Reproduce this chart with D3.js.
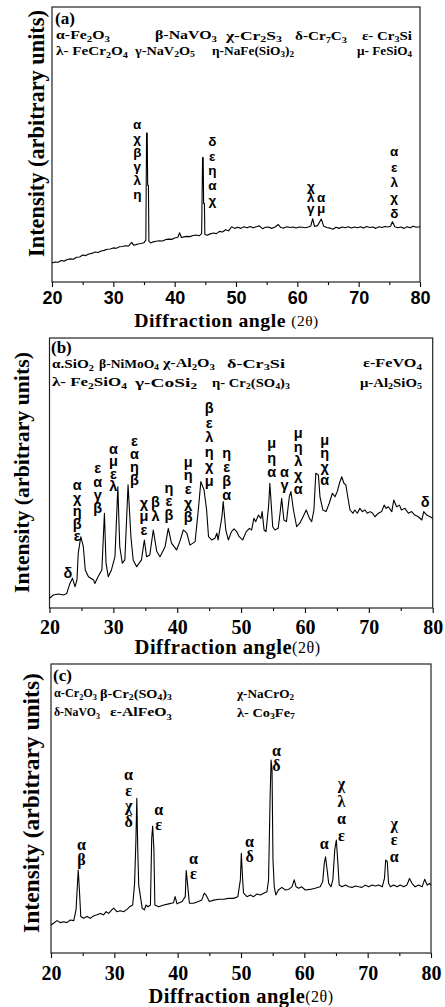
<!DOCTYPE html>
<html><head><meta charset="utf-8">
<script src="https://cdn.jsdelivr.net/npm/d3@7"></script>
<style>body{margin:0;background:#fff}svg{display:block}</style>
</head><body>
<svg id="chart" width="445" height="1007"></svg>
<script>
// ---------- data ----------
const angleTicks = [20,30,40,50,60,70,80];
const minorTicks = [25,35,45,55,65,75];
const xTitleMain = "Diffraction angle";
const xTitleUnit = "(2θ)";
const yTitle = "Intensity (arbitrary units)";

const scanA = [[20,6.9],[20.5,7.3],[21,7.2],[21.5,7.8],[22,7.6],[22.5,8.2],[23,8.4],[23.5,8.3],[24,9.0],[24.5,9.1],[25,9.8],[25.5,9.6],[26,10.2],[26.5,10.4],[27,10.9],[27.5,10.7],[28,11.3],[28.5,11.5],[29,11.9],[29.5,12.0],[30,12.4],[30.5,12.3],[31,12.8],[31.5,12.9],[32,13.2],[32.5,13.1],[33,14.4],[33.3,13.4],[33.7,13.6],[34,13.8],[34.5,14.0],[35,14.3],[35.3,15.2],[35.42,54.2],[35.52,54.2],[35.6,35.2],[35.72,35.2],[35.8,14.8],[36.1,14.2],[36.5,14.6],[37,14.8],[37.5,15.0],[38,14.9],[38.5,15.4],[39,15.6],[39.5,15.5],[40,16.0],[40.5,16.2],[40.8,17.9],[41.1,16.2],[41.5,16.4],[42,16.6],[42.5,16.5],[43,16.9],[43.5,17.1],[44,16.8],[44.4,17.6],[44.55,45.3],[44.65,45.3],[44.72,28.6],[44.85,28.6],[44.92,17.3],[45.3,17.0],[45.8,17.5],[46.3,17.8],[46.8,17.6],[47.3,18.4],[47.8,18.2],[48.3,19.0],[48.8,18.6],[49.3,20.1],[49.8,19.5],[50.3,19.9],[50.8,19.5],[51.3,20.1],[51.8,19.7],[52.3,20.2],[52.8,19.7],[53.3,20.1],[53.8,20.4],[54.3,19.4],[54.8,19.9],[55.3,20.0],[55.8,19.5],[56.3,19.9],[56.9,20.9],[57.3,19.8],[57.8,19.6],[58.3,20.1],[58.8,19.8],[59.3,20.0],[59.8,19.6],[60.3,20.0],[60.8,19.9],[61.3,19.7],[61.8,20.0],[62.2,20.4],[62.5,23.0],[62.8,20.2],[63.3,20.5],[63.9,22.9],[64.3,20.3],[64.8,19.8],[65.3,19.6],[65.8,19.2],[66.3,19.9],[66.8,19.5],[67.3,20.0],[67.8,19.7],[68.3,20.1],[68.8,19.6],[69.3,20.0],[69.8,19.7],[70.3,20.1],[70.8,19.6],[71.3,20.2],[71.8,19.8],[72.3,20.0],[72.8,19.5],[73.3,20.1],[73.8,19.8],[74.3,20.2],[74.8,20.0],[75.2,20.3],[75.5,21.9],[75.9,20.1],[76.4,19.7],[76.9,20.0],[77.4,19.5],[77.9,20.1],[78.4,19.7],[78.9,20.3],[79.4,19.9],[80,20.1]];

const scanB = [[20,3.6],[20.6,4.8],[21.4,5.2],[22.2,4.8],[22.7,5.4],[23.2,9.1],[23.6,11.0],[24.0,7.9],[24.3,10.4],[24.5,20.3],[24.9,26.4],[25.3,22.7],[25.6,14.1],[26.1,11.6],[26.9,10.4],[27.1,9.1],[27.6,11.6],[28.2,14.1],[28.6,35.1],[28.85,16.6],[29.2,11.6],[29.7,14.1],[30.25,19.0],[30.7,44.9],[31.0,22.7],[31.4,16.6],[31.8,17.8],[32.3,45.6],[32.75,26.4],[33.1,17.8],[33.65,15.3],[34.4,17.8],[34.85,25.2],[35.2,19.0],[35.7,19.6],[36.25,28.9],[36.8,20.9],[37.3,19.0],[38.1,22.7],[38.6,29.5],[39.1,24.0],[39.9,21.5],[40.4,24.6],[40.95,28.9],[41.5,27.7],[42.0,23.3],[42.8,24.6],[43.3,36.3],[43.7,46.8],[44.2,43.7],[44.6,36.3],[44.9,26.4],[45.4,25.2],[45.9,25.8],[46.2,27.7],[46.4,25.2],[47.0,33.8],[47.2,39.4],[47.6,28.9],[48.0,25.2],[48.5,28.3],[48.9,29.3],[49.3,28.3],[49.7,26.4],[50.25,25.2],[50.8,28.3],[51.3,29.5],[51.65,28.9],[52.0,33.2],[52.3,32.0],[52.7,34.4],[53.1,33.2],[53.3,35.7],[53.6,28.9],[53.9,28.3],[54.3,37.5],[54.5,46.2],[54.95,30.1],[55.3,28.9],[55.8,29.5],[56.1,35.1],[56.35,40.6],[56.7,32.6],[57.1,32.0],[57.55,41.2],[57.8,43.1],[58.2,36.3],[58.7,30.1],[59.2,31.4],[59.7,33.8],[60.2,36.3],[60.7,33.2],[61.05,32.0],[61.4,36.3],[61.7,49.9],[62.1,49.3],[62.35,41.2],[62.8,36.3],[63.3,35.7],[63.8,38.8],[64.3,42.5],[64.7,41.2],[65.05,43.1],[65.4,46.2],[65.75,48.6],[66.1,46.2],[66.4,45.6],[66.7,41.2],[67.05,36.3],[67.5,35.1],[67.8,36.3],[68.2,35.1],[68.6,36.9],[69.0,35.7],[69.4,36.3],[69.75,35.1],[70.2,35.7],[70.6,35.1],[70.95,33.8],[71.5,35.1],[72.0,35.7],[72.4,38.1],[72.7,36.9],[73.05,37.5],[73.6,35.7],[73.9,40.0],[74.35,37.5],[74.8,38.1],[75.1,36.3],[75.65,36.9],[76.2,35.1],[76.7,35.7],[77.2,34.4],[77.75,33.8],[78.3,32.6],[78.6,35.7],[79.05,34.4],[79.6,33.8],[80,33.2]];

const scanC = [[20,9.7],[20.4,10.3],[20.95,11.2],[21.5,10.5],[22.0,10.8],[22.5,10.5],[23.05,11.4],[23.6,11.2],[23.95,14.9],[24.3,28.7],[24.5,21.2],[24.7,12.6],[25.15,12.0],[25.7,12.6],[26.2,12.0],[26.7,12.8],[27.25,13.2],[27.8,13.7],[28.3,13.2],[28.7,14.3],[29.1,13.7],[29.6,14.9],[29.9,15.5],[30.4,14.3],[30.95,14.6],[31.45,14.3],[32.0,15.1],[32.4,16.0],[32.9,16.6],[33.2,24.1],[33.4,38.5],[33.55,53.5],[33.7,35.6],[33.85,23.5],[34.4,15.5],[34.75,14.9],[35.0,16.6],[35.3,16.0],[35.7,16.6],[35.9,39.7],[36.05,43.9],[36.25,35.6],[36.4,16.6],[37.0,16.0],[37.8,16.6],[38.6,17.0],[39.35,17.4],[39.6,19.5],[39.9,17.0],[40.7,17.8],[41.2,19.5],[41.35,28.5],[41.55,24.1],[41.85,17.2],[42.5,17.2],[43.3,17.8],[43.8,18.3],[44.2,20.7],[44.5,20.0],[45.0,17.8],[45.7,18.3],[46.5,18.6],[47.3,18.6],[48.0,18.9],[48.8,18.9],[49.5,19.5],[49.9,25.3],[50.05,34.5],[50.25,25.8],[50.4,20.7],[50.95,19.5],[51.45,20.1],[52.0,19.5],[52.5,20.4],[53.05,20.1],[53.6,20.7],[54.1,21.2],[54.35,25.3],[54.6,54.1],[54.75,66.8],[54.9,63.3],[55.05,32.2],[55.25,22.9],[55.5,20.1],[55.9,21.8],[56.45,22.7],[57.0,21.8],[57.5,22.0],[58.05,22.9],[58.4,25.3],[58.7,22.9],[59.1,22.4],[59.6,22.9],[60.15,21.8],[60.9,22.0],[61.7,22.4],[62.5,22.9],[62.9,24.7],[63.15,31.0],[63.35,33.3],[63.6,28.7],[63.85,24.1],[64.2,22.9],[64.5,25.3],[64.8,35.6],[65.05,39.1],[65.3,31.0],[65.5,23.5],[65.95,22.9],[66.5,23.5],[67.0,22.9],[67.55,22.7],[68.05,23.2],[68.6,22.9],[69.1,22.7],[69.6,23.5],[70.15,22.9],[70.7,23.5],[71.2,23.2],[71.75,23.5],[72.3,22.9],[72.65,25.8],[72.85,32.2],[73.1,31.6],[73.3,24.1],[73.6,22.9],[74.1,23.5],[74.65,22.9],[75.15,23.5],[75.7,22.9],[76.2,23.5],[76.6,25.8],[77.0,24.1],[77.5,22.9],[78.05,23.5],[78.6,22.9],[79.0,25.5],[79.4,23.5],[79.75,24.1],[80,23.5]];

// peak assignments: [angle, intensity of first letter, letters top-to-bottom]
const peaksA = [[33.9,57.1,"αχβγλη"],[46.14,51.0,"δεηαχ"],[62.2,34.8,"χλγ"],[63.9,30.7,"αμ"],[75.8,47.4,"αελχδ"]];
const peaksB = [[24.35,45.6,"αχηβε"],[27.55,51.7,"εαγβ"],[30.0,58.8,"αμελ"],[33.3,62.0,"εαηβ"],[34.8,38.9,"χμε"],[36.6,39.3,"βλ"],[38.7,44.6,"ηεβ"],[41.7,54.2,"μηεχβ"],[45.0,74.1,"βεληχμ"],[47.75,57.3,"ηεβα"],[54.8,61.0,"μηα"],[56.8,50.5,"αγ"],[58.95,64.7,"μηλχα"],[63.1,62.2,"μηχα"],[78.8,39.4,"δ"],[22.9,12.9,"δ"]];
const peaksC = [[24.8,37.4,"αβ"],[32.25,61.6,"αεχδ"],[37.0,49.5,"αε"],[42.5,32.8,"αε"],[51.35,38.5,"αδ"],[55.6,70.2,"αδ"],[63.15,38.0,"α"],[65.85,58.5,"χλαε"],[74.2,44.9,"χεα"]];

// phase legends (underscore = subscript)
const legendA = [["α-Fe_2O_3","β-NaVO_3","χ-Cr_2S_3","δ-Cr_7C_3","ε- Cr_3Si"],["λ- FeCr_2O_4","γ-NaV_2O_5","η-NaFe(SiO_3)_2","μ- FeSiO_4"]];
const legendB = [["α.SiO_2","β-NiMoO_4","χ-Al_2O_3","δ-Cr_3Si","ε-FeVO_4"],["λ- Fe_2SiO_4","γ-CoSi_2","η- Cr_2(SO_4)_3","μ-Al_2SiO_5"]];
const legendC = [["α-Cr_2O_3","β-Cr_2(SO_4)_3","χ-NaCrO_2"],["δ-NaVO_3","ε-AlFeO_3","λ- Co_3Fe_7"]];

// ---------- layout ----------
const SERIF = "'Liberation Serif','Times New Roman',serif";
const SANS = "'Liberation Sans',Arial,sans-serif";
const panels = [
  {tag:"(a)", data:scanA, peaks:peaksA, legend:legendA,
   l:52, r:420, t:7, b:282, tagPos:[55,18],
   legRows:[35,50], legX:[[56,155,226,295,362],[56,135,212,357]], legW:[[54,62,56,52,50],[72,60,82,55]],
   tickFont:SANS, tickSize:18, tickOff:16,
   peakFont:SANS, peakSize:13.5, peakGaps:[14,14.6,11.2,11.2,15.4],
   yl:[36,133.5,247], xt:[226.5,320,187], xtSpace:true},
  {tag:"(b)", data:scanB, peaks:peaksB, legend:legendB,
   l:49.5, r:432.7, t:338, b:608, tagPos:[51,347],
   legRows:[363,382], legX:[[52,99,163,227,363],[52,135,212,360]], legW:[[42,60,52,58,59],[75,62,78,62]],
   tickFont:SERIF, tickSize:20, tickOff:19,
   peakFont:SANS, peakSize:14.5, peakGaps:[12.9,13.3,12.2,13.1,13.5,14.5,13.5,13.75,14.6,13.9,14.3,13.3,14,13.3,0,0],
   yl:[22,472.5,241], xt:[227.5,647,189], xtSpace:false},
  {tag:"(c)", data:scanC, peaks:peaksC, legend:legendC,
   l:51, r:431, t:664, b:953, tagPos:[53,675],
   legRows:[693,712], legX:[[54,100,237],[54,110,237]], legW:[[43,72,57],[46,62,58]],
   tickFont:SERIF, tickSize:20, tickOff:20,
   peakFont:SERIF, peakSize:16, peakGaps:[15,15.5,15,15,15,15,15,17.3,16.7],
   yl:[31,803,260], xt:[241,996,188], xtSpace:false}
];

const svg = d3.select("#chart");

function richText(sel, str, fs){
  const parts = str.split(/(_\d+)/).filter(s=>s.length);
  let sub=false;
  const sh = fs*0.3;
  parts.forEach(p=>{
    if(p[0]==="_"){
      sel.append("tspan").attr("font-size",(fs*0.68)+"px").attr("dy",sh).text(p.slice(1));
      sub=true;
    } else {
      sel.append("tspan").attr("dy", sub? -sh:0).text(p);
      sub=false;
    }
  });
}

panels.forEach(p=>{
  const x = d3.scaleLinear().domain([20,80]).range([p.l,p.r]);
  const y = d3.scaleLinear().domain([0,100]).range([p.b,p.t]);
  const g = svg.append("g");

  const minor = g.append("g").attr("transform",`translate(0,${p.b})`)
    .call(d3.axisBottom(x).tickValues(minorTicks).tickSizeInner(3).tickSizeOuter(0).tickFormat(""));
  minor.select(".domain").remove();
  const major = g.append("g").attr("transform",`translate(0,${p.b})`)
    .call(d3.axisBottom(x).tickValues(angleTicks).tickSizeInner(5).tickSizeOuter(0).tickFormat(d3.format("d")));
  major.select(".domain").remove();
  g.selectAll(".tick line").attr("stroke","#000").attr("stroke-width",1.1);
  major.selectAll(".tick text")
    .attr("y",p.tickOff).attr("dy",null).attr("dominant-baseline","central")
    .attr("font-family",p.tickFont).attr("font-weight","bold").attr("font-size",p.tickSize+"px").attr("fill","#000");

  g.append("rect").attr("x",p.l).attr("y",p.t).attr("width",p.r-p.l).attr("height",p.b-p.t)
    .attr("fill","none").attr("stroke","#222").attr("stroke-width",1.2);

  g.append("path").datum(p.data)
    .attr("d", d3.line().x(d=>x(d[0])).y(d=>y(d[1])))
    .attr("fill","none").attr("stroke","#000").attr("stroke-width",1.1).attr("stroke-linejoin","round");

  p.peaks.forEach((pk,i)=>{
    const letters = Array.from(pk[2]);
    const gap = p.peakGaps[i]||0;
    letters.forEach((ch,j)=>{
      g.append("text").attr("x",x(pk[0])).attr("y",y(pk[1])+j*gap)
        .attr("text-anchor","middle").attr("dominant-baseline","central")
        .attr("font-family",p.peakFont).attr("font-weight","bold").attr("font-size",p.peakSize+"px")
        .attr("fill","#000").text(ch);
    });
  });

  g.append("text").attr("x",p.tagPos[0]).attr("y",p.tagPos[1]).attr("dominant-baseline","central")
    .attr("font-family",SERIF).attr("font-weight","bold").attr("font-size","17px").text(p.tag);

  // legend: each item fitted horizontally to its extent in the reference
  p.legend.forEach((row,ri)=>{
    row.forEach((item,ci)=>{
      const t = g.append("text").attr("x",0).attr("y",0)
        .attr("dominant-baseline","central")
        .attr("font-family",SERIF).attr("font-weight","bold").attr("font-size","13px")
        .attr("fill","#000");
      richText(t,item,13);
      const w = t.node().getComputedTextLength();
      const sx = p.legW[ri][ci]/w;
      t.attr("transform",`translate(${p.legX[ri][ci]},${p.legRows[ri]}) scale(${sx},1)`);
    });
  });

  const yt = g.append("text").attr("text-anchor","middle").attr("dominant-baseline","central")
    .attr("transform",`translate(${p.yl[0]},${p.yl[1]}) rotate(-90)`)
    .attr("font-family",SERIF).attr("font-weight","bold").attr("font-size","16px").text(yTitle);
  const yl = yt.node().getComputedTextLength();
  yt.attr("font-size",(16*p.yl[2]/yl)+"px");

  const xt = g.append("text").attr("x",p.xt[0]).attr("y",p.xt[1]).attr("text-anchor","middle")
    .attr("dominant-baseline","central").attr("font-family",SERIF).attr("font-weight","bold").attr("font-size","16px")
    .attr("letter-spacing","0.5px");
  xt.append("tspan").text(xTitleMain + (p.xtSpace?" ":""));
  xt.append("tspan").attr("font-size","0.78em").attr("font-weight","normal").text(xTitleUnit);
  const xl = xt.node().getComputedTextLength();
  xt.attr("font-size",(16*p.xt[2]/xl)+"px");
});
</script>
</body></html>
